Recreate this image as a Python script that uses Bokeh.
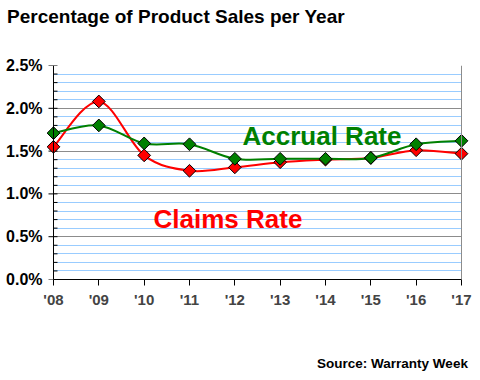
import numpy as np
from bokeh.plotting import figure
from bokeh.models import Range1d, FixedTicker, Label, Span, ColumnDataSource, LinearAxis
from bokeh.embed import file_html
from bokeh.resources import INLINE

# ---- data ----
years = [2008, 2009, 2010, 2011, 2012, 2013, 2014, 2015, 2016, 2017]
year_labels = ["'08", "'09", "'10", "'11", "'12", "'13", "'14", "'15", "'16", "'17"]
accrual = [1.71, 1.80, 1.59, 1.58, 1.41, 1.41, 1.41, 1.42, 1.58, 1.62]
claims = [1.55, 2.08, 1.45, 1.27, 1.31, 1.37, 1.40, 1.42, 1.51, 1.47]
y_ticks = [0.0, 0.5, 1.0, 1.5, 2.0, 2.5]
y_tick_labels = ["0.0%", "0.5%", "1.0%", "1.5%", "2.0%", "2.5%"]
y_minor = [round(i * 0.1, 1) for i in range(26)]
TITLE = "Percentage of Product Sales per Year"
SOURCE = "Source: Warranty Week"

FONT = "Liberation Sans"
GREEN = "#008000"
RED = "#ff0000"

W, H = 480, 380
# layout (pixels): first year at 53, last year at 461, frame 45..469 x 65..279
X_FIRST, X_LAST, F_LEFT, F_RIGHT, F_TOP, F_BOTTOM = 53.0, 461.0, 45, 469, 65, 279
KX = (X_LAST - X_FIRST) / (years[-1] - years[0])
KY = (F_BOTTOM - F_TOP) / 2.5


def dx(px):
    return years[0] + (px - X_FIRST) / KX


def dy(py):
    return (F_BOTTOM - py) / KY


p = figure(width=W, height=H, output_backend="svg", toolbar_location=None,
           x_range=Range1d(dx(F_LEFT), dx(F_RIGHT)), y_range=Range1d(0, 2.5),
           min_border_left=F_LEFT, min_border_right=W - F_RIGHT,
           min_border_top=F_TOP, min_border_bottom=H - F_BOTTOM)
p.outline_line_color = None
p.background_fill_color = "white"
p.border_fill_color = "white"

xa = p.below[0]
ya = p.left[0]


def text_axis(center_px, text, size, standoff):
    # a bare axis whose single tick label carries a piece of chart text
    c = dx(center_px)
    return LinearAxis(ticker=FixedTicker(ticks=[c]), major_label_overrides={c: text},
                      major_label_text_font=FONT, major_label_text_font_style="bold",
                      major_label_text_font_size=size, major_label_text_color="black",
                      major_label_standoff=standoff,
                      major_tick_out=0, major_tick_in=0, minor_tick_out=0, minor_tick_in=0,
                      axis_line_color=None, major_tick_line_color=None,
                      minor_tick_line_color=None)


# title above the plot
p.add_layout(text_axis((4 + 347) / 2, TITLE, "19px", 39), "above")

# y axis (labels only)
yt = FixedTicker(ticks=y_ticks, minor_ticks=y_minor)
ya.ticker = yt
ya.major_label_overrides = {t: l for t, l in zip(y_ticks, y_tick_labels)}
ya.axis_line_color = None
ya.major_tick_line_color = None
ya.minor_tick_line_color = None
ya.major_tick_out = 0
ya.minor_tick_out = 0
ya.major_label_text_font = FONT
ya.major_label_text_font_style = "bold"
ya.major_label_text_font_size = "16px"
ya.major_label_text_color = "black"
ya.major_label_standoff = 3

# x axis
xa.ticker = FixedTicker(ticks=years)
xa.major_label_overrides = {y: l for y, l in zip(years, year_labels)}
xa.bounds = (years[0], years[-1])
xa.axis_line_color = "black"
xa.major_tick_out = 6
xa.major_tick_in = 0
xa.minor_tick_line_color = None
xa.minor_tick_out = 0
xa.major_label_text_font = FONT
xa.major_label_text_font_style = "bold"
xa.major_label_text_font_size = "15px"
xa.major_label_standoff = 5

# source note below the x axis
p.add_layout(text_axis((316 + 468) / 2, SOURCE, "13.5px", 45), "below")

# grid
p.xgrid.grid_line_color = None
g = p.ygrid[0]
g.ticker = yt
g.grid_line_color = "#8c8c8c"
g.minor_grid_line_color = "#99ccff"
g.cross_bounds = (years[0], years[-1])

# frame: right border and left axis line with ticks
p.add_layout(Span(location=years[-1], dimension="height", line_color="#8c8c8c", line_width=1))
p.ray(x=[years[0]] * len(y_ticks), y=y_ticks, length=5, length_units="screen",
      angle=np.pi, line_color="black", line_width=1)
p.ray(x=[years[0]] * len(y_minor), y=y_minor, length=4, length_units="screen",
      angle=0, line_color="black", line_width=1)
p.add_layout(Span(location=years[0], dimension="height", line_color="black", line_width=1))


def bez(xs, ys):
    xs = np.asarray(xs, float)
    ys = np.asarray(ys, float)
    n = len(xs)
    xp = np.concatenate([[xs[0]], xs, [xs[-1]]])
    yp = np.concatenate([[ys[0]], ys, [ys[-1]]])
    return dict(
        x0=xs[:-1], y0=ys[:-1], x1=xs[1:], y1=ys[1:],
        cx0=xs[:-1] + (xp[2:n + 1] - xp[0:n - 1]) / 6,
        cy0=ys[:-1] + (yp[2:n + 1] - yp[0:n - 1]) / 6,
        cx1=xs[1:] - (xp[3:n + 2] - xp[1:n]) / 6,
        cy1=ys[1:] - (yp[3:n + 2] - yp[1:n]) / 6,
    )


p.bezier(source=ColumnDataSource(bez(years, claims)), x0="x0", y0="y0", x1="x1", y1="y1",
         cx0="cx0", cy0="cy0", cx1="cx1", cy1="cy1", line_color=RED, line_width=2)
p.bezier(source=ColumnDataSource(bez(years, accrual)), x0="x0", y0="y0", x1="x1", y1="y1",
         cx0="cx0", cy0="cy0", cx1="cx1", cy1="cy1", line_color=GREEN, line_width=2)
p.scatter(years, claims, marker="square", angle=np.pi / 4, size=9,
          fill_color=RED, line_color="black", line_width=1)
p.scatter(years, accrual, marker="square", angle=np.pi / 4, size=9,
          fill_color=GREEN, line_color="black", line_width=1)

p.add_layout(Label(x=dx(242), y=dy(135), text="Accrual Rate",
                   text_font=FONT, text_font_style="bold", text_font_size="26px",
                   text_color=GREEN, text_baseline="alphabetic"))
p.add_layout(Label(x=dx(153), y=dy(218), text="Claims Rate",
                   text_font=FONT, text_font_style="bold", text_font_size="26px",
                   text_color=RED, text_baseline="alphabetic"))

open("out.html", "w").write(file_html(p, INLINE))
